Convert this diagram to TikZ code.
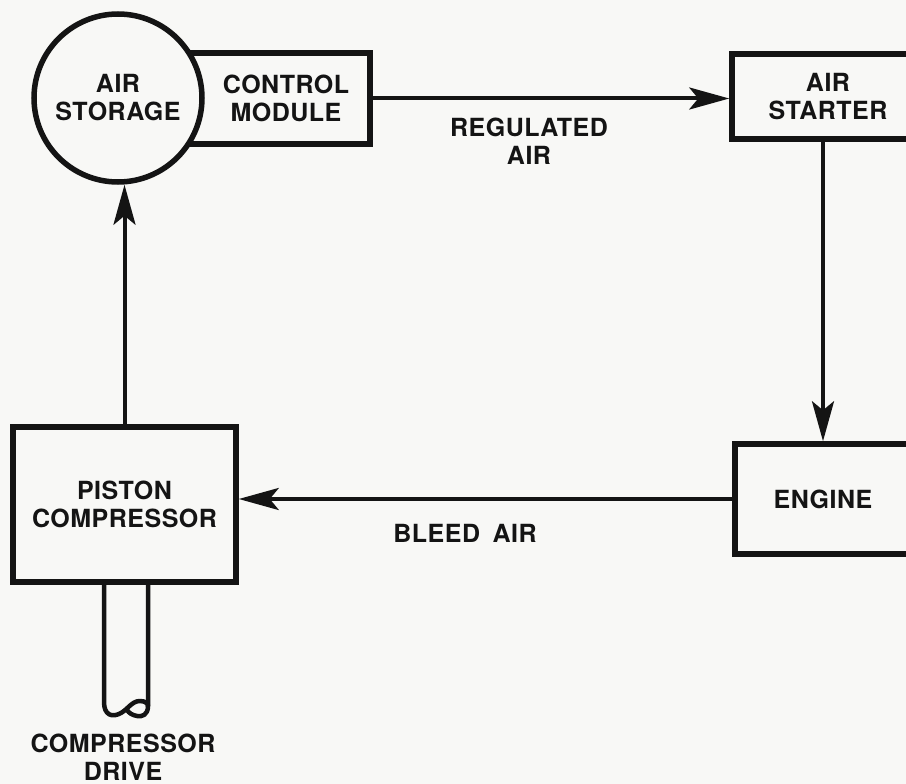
\documentclass[tikz,border=0pt]{standalone}
\usepackage{fontspec}
\setmainfont{TeX Gyre Heros}[LetterSpace=2]
\usepackage{xcolor}
\definecolor{paper}{HTML}{F8F8F6}
\definecolor{ink}{HTML}{141414}
\usepackage{tikz}
\usetikzlibrary{positioning, arrows.meta}

\begin{document}
\begin{tikzpicture}[
  x=1pt, y=-1pt,
  blocktext/.style={font=\fontsize{25}{28}\selectfont\bfseries, align=center, text=ink},
  block/.style={blocktext, draw=ink, line width=5.5pt, fill=paper, inner sep=0pt},
  tank/.style={block, circle, minimum size=168pt},
  flow/.style={draw=ink, line width=4pt, -{Stealth[length=40pt, width=22pt, inset=9pt]}},
  shaft/.style={draw=ink, line width=4.5pt, line join=round, line cap=round}
]
\fill[paper] (0,0) rectangle (906,784);
\useasboundingbox (0,0) rectangle (906,784);

% ---- AIR STORAGE + CONTROL MODULE ----
\coordinate (tankc) at (118,98);
\node[blocktext, minimum width=168pt, minimum height=91pt] (control) at (286,98.5) {CONTROL\\MODULE};
\draw[ink, line width=5.5pt] (tankc |- control.north) rectangle (control.south east);
\node[tank] (storage) at (tankc) {AIR\\STORAGE};

% ---- STARTER / ENGINE / COMPRESSOR ----
\node[block, minimum width=192pt, minimum height=85pt]  (starter) at (828,96.5)    {AIR\\STARTER};
\node[block, minimum width=176pt, minimum height=110pt] (engine)  at (823,499)     {ENGINE};
\node[block, minimum width=223pt, minimum height=155pt] (piston)  at (124.5,504.5) {PISTON\\COMPRESSOR};

% ---- labels ----
\node[blocktext] (regulated) at (529,141)   {REGULATED\\AIR};
\node[blocktext] (bleed)     at (465,533.5) {BLEED\hspace{0.5em}AIR};
\node[blocktext] (drive)     at (123,757)   {COMPRESSOR\\DRIVE};

% ---- flows ----
\draw[flow] (control.east) -- (control.east -| starter.west);
\draw[flow] (engine.north |- starter.south) -- (engine.north);
\draw[flow] (engine.west) -- (engine.west -| piston.east);
\draw[flow] (piston.north) -- (piston.north |- storage.south);

% ---- drive shaft, broken end ----
\draw[shaft] (104,582) -- (104,702) .. controls (104,715) and (112,718) .. (121,713)
  .. controls (128,709) and (132,701) .. (140,701) .. controls (146,701) and (148,704) .. (148,706);
\draw[shaft] (148,582) -- (148,706) .. controls (148,715) and (142,717) .. (137,716)
  .. controls (132,715) and (129,713) .. (127,710);

\end{tikzpicture}
\end{document}
